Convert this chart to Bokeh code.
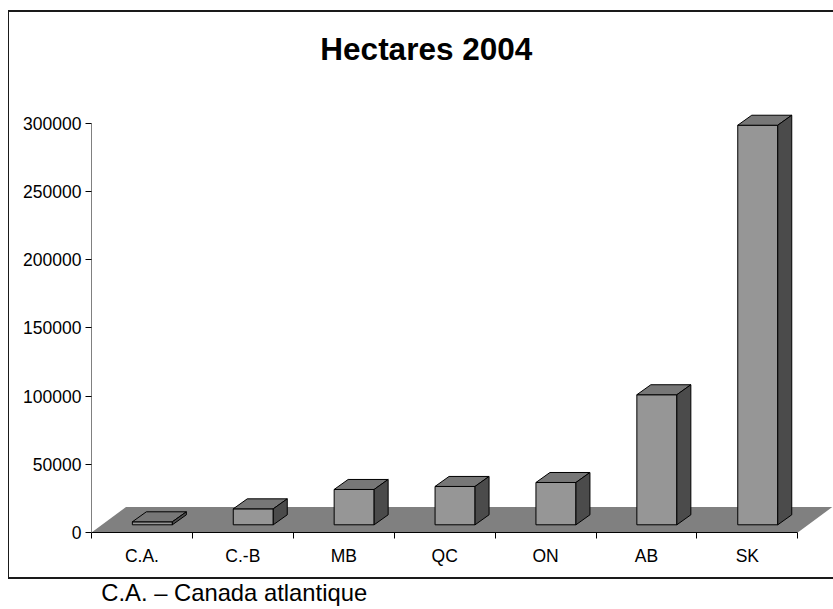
from bokeh.plotting import figure
from bokeh.models import Range1d, FixedTicker, NumeralTickFormatter, Label, LinearAxis
from bokeh.embed import file_html
from bokeh.resources import INLINE

# ---- data ----
categories = ["C.A.", "C.-B", "MB", "QC", "ON", "AB", "SK"]
hectares = [2200, 11700, 25900, 28100, 31000, 95300, 292800]
y_ticks = [0, 50000, 100000, 150000, 200000, 250000, 300000]
title_text = "Hectares 2004"
footnote_text = "C.A. \u2013 Canada atlantique"

# ---- layout / style constants ----
FONT = "Liberation Sans"
W, H = 833, 609
ML, MR, MT, MB = 91, 0, 14, 77
frame_w = W - ML - MR
frame_h = H - MT - MB
px_per_cat = 100.9
px_per_val = 409.4 / 300000.0
x_end = frame_w / px_per_cat
y_end = frame_h / px_per_val
axis_px = H - MB  # canvas y of the value axis origin


def dxu(px):
    return px / px_per_cat


def dyv(px):
    return px / px_per_val


bar_w = dxu(40)
bar_dx, bar_dy = dxu(14), dyv(10)
bar_shift_x, bar_base = dxu(10.4), dyv(7.7)
floor_dx, floor_dy = dxu(34.5), dyv(25.5)

FRONT = "#969696"
TOP = "#777777"
SIDE = "#4b4b4b"
FLOOR = "#808080"
EDGE = "#1a1a1a"

# chart border drawn as inset shadows on the (transparent) plot element:
# left, top and bottom edges around the chart; footnote strip stays outside
border_css = ", ".join([
    "inset 0 10px 0 0 #ffffff",
    "inset 8px 0 0 0 #ffffff",
    "inset 0 -30px 0 0 #ffffff",
    "inset 0 12px 0 0 " + EDGE,
    "inset 9px 0 0 0 " + EDGE,
    "inset 0 -32px 0 0 " + EDGE,
])

p = figure(width=W, height=H,
           x_range=Range1d(0, x_end), y_range=Range1d(0, y_end),
           output_backend="svg", toolbar_location=None,
           min_border_left=ML, min_border_right=MR,
           min_border_top=MT, min_border_bottom=MB,
           styles={"box-shadow": border_css, "background-color": "#ffffff"})
p.xgrid.visible = False
p.ygrid.visible = False
p.outline_line_color = None
p.background_fill_color = None
p.border_fill_color = None

n = len(categories)

# floor
p.patch(x=[0, n, n + floor_dx, floor_dx],
        y=[0, 0, floor_dy, floor_dy],
        fill_color=FLOOR, line_color=None)

# bars
lefts = [i + 0.5 - bar_w / 2 + bar_shift_x for i in range(n)]
rights = [l + bar_w for l in lefts]
bottoms = [bar_base] * n
tops = [bar_base + v for v in hectares]

p.quad(left=lefts, right=rights, bottom=bottoms, top=tops,
       fill_color=FRONT, line_color="black", line_width=1)

top_xs = [[l, r, r + bar_dx, l + bar_dx] for l, r in zip(lefts, rights)]
top_ys = [[t, t, t + bar_dy, t + bar_dy] for t in tops]
p.patches(xs=top_xs, ys=top_ys, fill_color=TOP, line_color="black", line_width=1)

side_xs = [[r, r + bar_dx, r + bar_dx, r] for r in rights]
side_ys = [[b, b + bar_dy, t + bar_dy, t] for b, t in zip(bottoms, tops)]
p.patches(xs=side_xs, ys=side_ys, fill_color=SIDE, line_color="black", line_width=1)

# y axis
ya = p.yaxis[0]
ya.ticker = FixedTicker(ticks=y_ticks, minor_ticks=[])
ya.formatter = NumeralTickFormatter(format="0")
ya.bounds = (0, y_ticks[-1])
ya.axis_line_color = "#808080"
ya.major_tick_line_color = "black"
ya.major_tick_out = 6
ya.major_tick_in = 0
ya.minor_tick_out = 0
ya.minor_tick_in = 0
ya.major_label_standoff = 4
ya.major_label_text_font = FONT
ya.major_label_text_font_size = "17.5px"
ya.major_label_text_color = "black"

# x axis
xa = p.xaxis[0]
centers = [i + 0.5 for i in range(n)]
xa.ticker = FixedTicker(ticks=centers, minor_ticks=list(range(n + 1)))
xa.major_label_overrides = {c: lab for c, lab in zip(centers, categories)}
xa.bounds = (0, n)
xa.axis_line_color = "black"
xa.major_tick_out = 0
xa.major_tick_in = 0
xa.minor_tick_out = 6
xa.minor_tick_in = 0
xa.minor_tick_line_color = "black"
xa.major_label_standoff = 7
xa.major_label_text_font = FONT
xa.major_label_text_font_size = "17.5px"
xa.major_label_text_color = "black"

# footnote: a bare second bottom axis whose single label is the note
note_u = dxu(233.7 - ML)
na = LinearAxis(ticker=FixedTicker(ticks=[note_u], minor_ticks=[]),
                major_label_overrides={note_u: footnote_text},
                axis_line_color=None, major_tick_line_color=None,
                minor_tick_line_color=None,
                major_tick_out=0, major_tick_in=0,
                minor_tick_out=0, minor_tick_in=0,
                major_label_standoff=10,
                major_label_text_font=FONT,
                major_label_text_font_size="23.8px",
                major_label_text_color="black")
p.add_layout(na, "below")

# title (baseline lands ~12px below the requested y, so ask for 48 to get 60)
p.add_layout(Label(x=dxu(425.8 - ML), y=dyv(axis_px - 48), text=title_text,
                   text_font=FONT, text_font_size="31.5px", text_font_style="bold",
                   text_align="center", text_baseline="alphabetic", text_color="black"))

open("out.html", "w").write(file_html(p, INLINE))
